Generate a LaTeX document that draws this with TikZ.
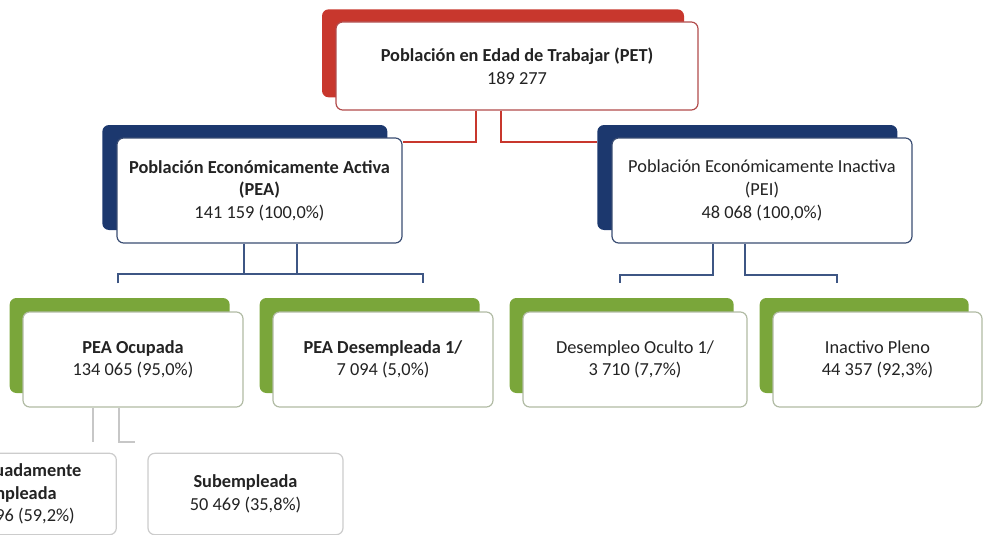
\documentclass[tikz,border=0pt]{standalone}
\usepackage{fontspec}
\setmainfont{Carlito}
\usetikzlibrary{shadows}

\definecolor{petred}{RGB}{200,55,45}
\definecolor{peanavy}{RGB}{28,56,110}
\definecolor{leafgreen}{RGB}{122,166,58}
\definecolor{inkgray}{RGB}{35,35,35}

\begin{document}
\begin{tikzpicture}
      [x=0.75pt, y=-0.75pt,
        every node/.style={align=center, text=inkgray,
          font=\fontsize{13.75}{17}\selectfont},
        box/.style={draw, fill=white, rounded corners=5pt, line width=0.9pt, inner sep=0pt},
        redbox/.style={box, draw=red!40!gray,
          general shadow={fill=petred, draw=none, shadow xshift=-10.5pt, shadow yshift=9.5pt}},
        bluebox/.style={box, draw=peanavy!70!gray,
          general shadow={fill=peanavy, draw=none, shadow xshift=-11pt, shadow yshift=9.75pt}},
        greenbox/.style={box, draw=leafgreen!35!gray!60, minimum height=71.25pt,
          general shadow={fill=leafgreen, draw=none, shadow xshift=-10pt, shadow yshift=10.5pt}},
        plainbox/.style={box, draw=black!20, minimum height=61pt},
        redline/.style={draw=petred, line width=1.1pt},
        blueline/.style={draw=peanavy!85, line width=1pt},
        grayline/.style={draw=black!22, line width=1pt}]
      \useasboundingbox (0,0) rectangle (989,535);
      \clip (0,0) rectangle (989,535);

      % bend points of the connectors
      \coordinate (redy) at (0,142);
      \coordinate (pea-l) at (118,274);
      \coordinate (pea-r) at (423,274);
      \coordinate (pei-l) at (620,275);
      \coordinate (pei-r) at (837,275);
      \coordinate (sub-c) at (135,442);

      \node[redbox, minimum width=271.5pt, minimum height=66pt] (pet) at (517,66)
            {\textbf{Población en Edad de Trabajar (PET)}\\189 277};

      \node[bluebox, minimum width=213.75pt, minimum height=78.75pt] (pea) at (259.5,190.5)
            {\textbf{Población Económicamente Activa}\\\textbf{(PEA)}\\141 159 (100,0\%)};
      \node[bluebox, minimum width=225pt, minimum height=78.75pt] (pei) at (762,190.5)
            {Población Económicamente Inactiva\\(PEI)\\48 068 (100,0\%)};

      \node[greenbox, minimum width=165pt] (ocu) at (133,359.5)
            {\textbf{PEA Ocupada}\\134 065 (95,0\%)};
      \node[greenbox, minimum width=165pt] (des) at (383,359.5)
            {\textbf{PEA Desempleada 1/}\\7 094 (5,0\%)};
      \node[greenbox, minimum width=168pt] (ocl) at (635,359.5)
            {Desempleo Oculto 1/\\3 710 (7,7\%)};
      \node[greenbox, minimum width=156.75pt] (ina) at (877.5,359.5)
            {Inactivo Pleno\\44 357 (92,3\%)};

      \node[plainbox, minimum width=146pt] (ade) at (19,494)
            {\textbf{Adecuadamente}\\\textbf{Empleada}\\83 596 (59,2\%)};
      \node[plainbox, minimum width=146.25pt] (sub) at (245.5,494)
            {\textbf{Subempleada}\\50 469 (35,8\%)};

      % PET
      \draw[redline] ([xshift=-30.75pt]pet.south) |- (pea.east |- redy);
      \draw[redline] ([xshift=-12pt]pet.south) |- ([xshift=-11pt]pei.west |- redy);
      % PEA
      \draw[blueline] ([xshift=-11.6pt]pea.south) -- ([xshift=-11.6pt]pea.south |- pea-l);
      \draw[blueline] ([xshift=28.1pt]pea.south) -- ([xshift=28.1pt]pea.south |- pea-l);
      \draw[blueline] ([yshift=-7pt]pea-l) -- (pea-l) -- (pea-r) -- ([yshift=-7pt]pea-r);
      % PEI
      \draw[blueline] ([xshift=-36.75pt]pei.south) |- (pei-l) -- ([yshift=-6pt]pei-l);
      \draw[blueline] ([xshift=-12.75pt]pei.south) |- (pei-r) -- ([yshift=-6pt]pei-r);
      % PEA Ocupada
      \draw[grayline] ([xshift=-30pt]ocu.south) -- ([xshift=-30pt]ocu.south |- sub-c);
      \draw[grayline] ([xshift=-10.5pt]ocu.south) |- (sub-c);
\end{tikzpicture}
\end{document}
